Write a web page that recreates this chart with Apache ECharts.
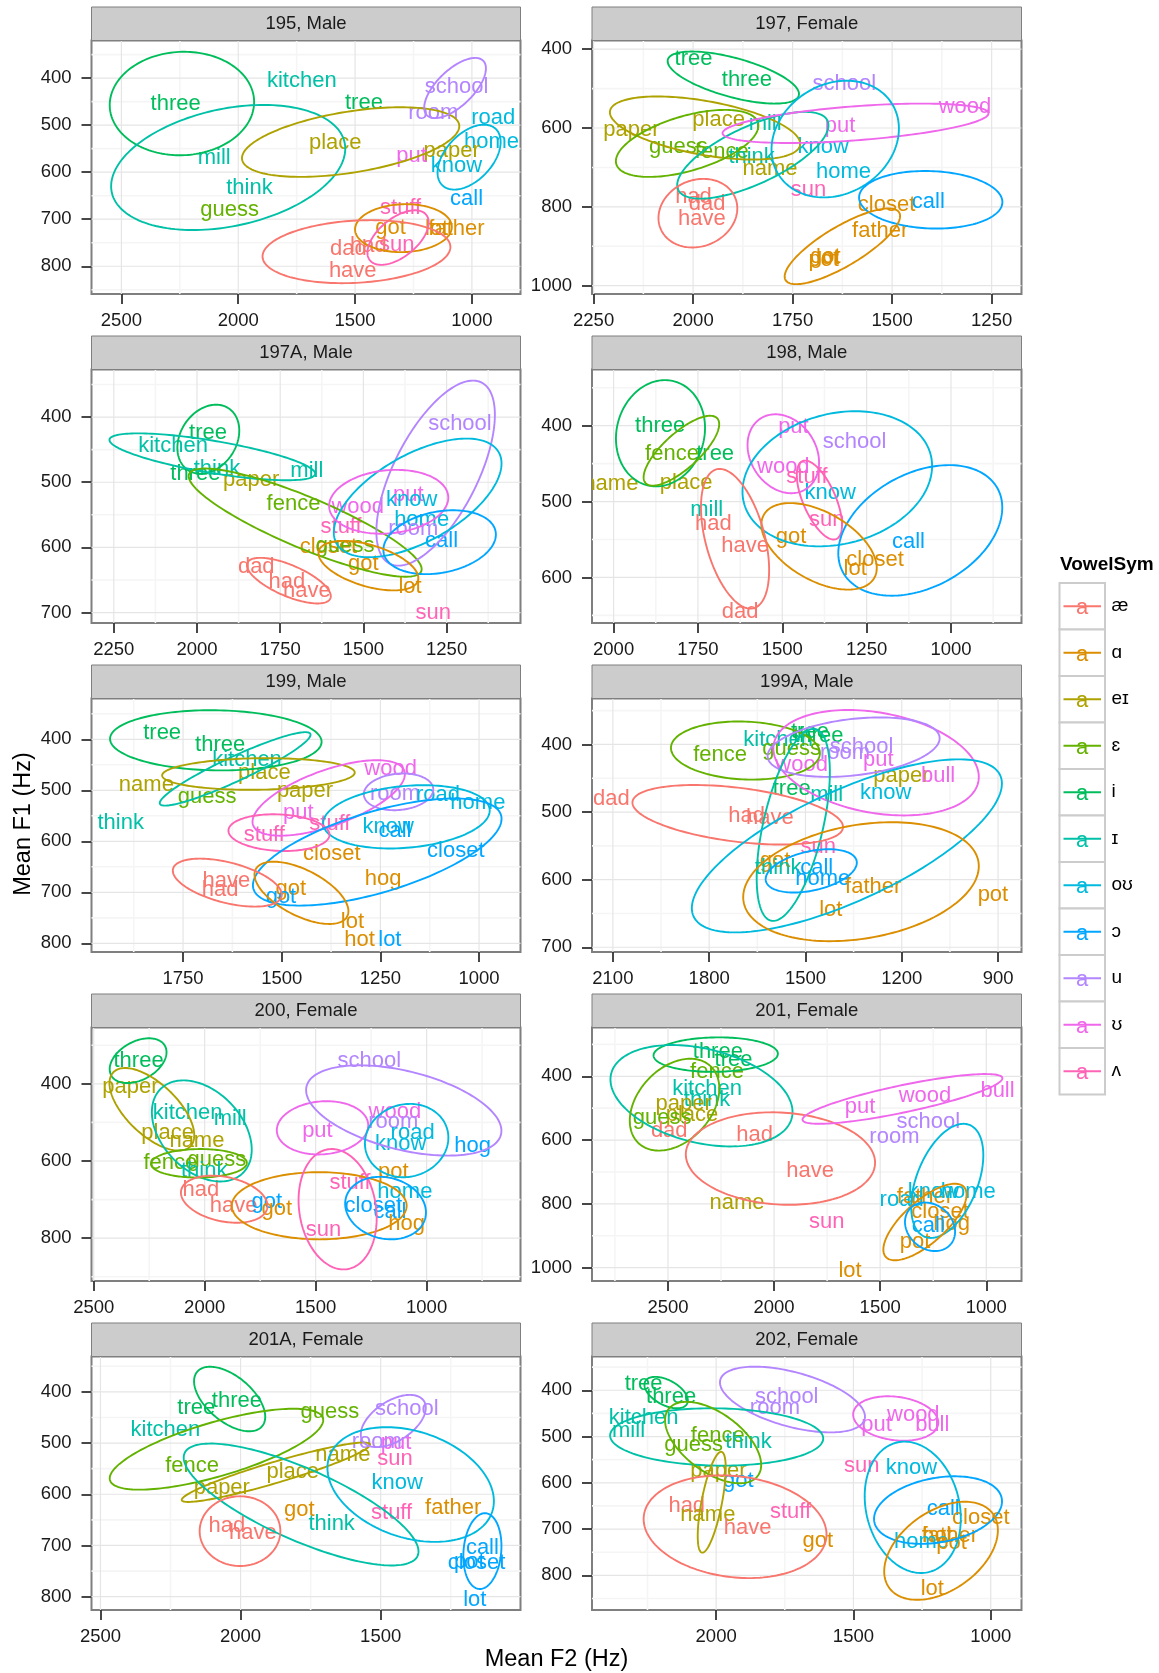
<!DOCTYPE html>
<html><head><meta charset="utf-8">
<script src="https://cdn.jsdelivr.net/npm/echarts@6/dist/echarts.min.js"></script>
<style>html,body{margin:0;padding:0;background:#fff}#c{width:1159px;height:1673px}</style>
</head><body><div id="c"></div>
<script>
// ---------- categories ----------
const VOWELS = ['æ','ɑ','eɪ','ɛ','i','ɪ','oʊ','ɔ','u','ʊ','ʌ'];
const COLORS = ['#F8766D','#DB8E00','#AEA200','#64B200','#00BD5C','#00C1A7','#00BADE','#00A6FF','#B385FF','#EF67EB','#FF63B6'];
const panelTitles = ['195, Male','197, Female','197A, Male','198, Male','199, Male','199A, Male','200, Female','201, Female','201A, Female','202, Female'];

// ---------- axis ranges and tick labels (Hz) ----------
const xLims = [[792,2628],[1175,2254],[1028,2317],[791,2064],[895,1982],[827,2165],[577,2510],[834,2858],[1001,2532],[888,2452]];
const yLims = [[320,859],[378,1021],[327,716],[326,660],[320,817],[332,707],[254,911],[247,1042],[331,826],[327,875]];
const xTicks = [[1000,1500,2000,2500],[1250,1500,1750,2000,2250],[1250,1500,1750,2000,2250],[1000,1250,1500,1750,2000],[1000,1250,1500,1750],[900,1200,1500,1800,2100],[1000,1500,2000,2500],[1000,1500,2000,2500],[1500,2000,2500],[1000,1500,2000]];
const yTicks = [[400,500,600,700,800],[400,600,800,1000],[400,500,600,700],[400,500,600],[400,500,600,700,800],[400,500,600,700],[400,600,800],[400,600,800,1000],[400,500,600,700,800],[400,500,600,700,800]];

// ---------- word means: [word, F2, F1, vowel] ----------
const w195 = [['three',2268,455,'i'],['kitchen',1728,407,'ɪ'],['tree',1462,452,'i'],['school',1066,419,'u'],['room',1165,474,'u'],['road',909,485,'oʊ'],['home',916,535,'oʊ'],['place',1585,538,'eɪ'],['paper',1087,554,'eɪ'],['put',1258,565,'ʊ'],['know',1066,587,'oʊ'],['mill',2103,570,'ɪ'],['think',1952,634,'ɪ'],['guess',2037,680,'ɛ'],['call',1023,657,'ɔ'],['stuff',1305,677,'ʌ'],['got',1348,719,'ɑ'],['lot',1151,721,'ɑ'],['father',1066,721,'ɑ'],['sun',1322,755,'ʌ'],['dad',1529,764,'æ'],['had',1443,757,'æ'],['have',1510,809,'æ']];
const w197 = [['tree',1999,425,'i'],['three',1865,478,'i'],['school',1620,488,'u'],['wood',1317,546,'ʊ'],['paper',2155,605,'eɪ'],['place',1936,580,'eɪ'],['mill',1819,590,'ɪ'],['put',1631,595,'ʊ'],['guess',2037,648,'ɛ'],['fence',1928,661,'ɛ'],['think',1853,673,'ɪ'],['know',1673,648,'oʊ'],['name',1807,705,'eɪ'],['home',1622,711,'oʊ'],['sun',1710,756,'ʌ'],['had',1999,775,'æ'],['dad',1965,792,'æ'],['have',1978,830,'æ'],['closet',1514,794,'ɑ'],['call',1409,788,'ɔ'],['father',1530,860,'ɑ'],['got',1668,926,'ɑ'],['lot',1662,929,'ɑ'],['pot',1672,934,'ɑ']];
const w197A = [['tree',1967,425,'i'],['kitchen',2072,445,'ɪ'],['three',2005,488,'i'],['think',1940,479,'ɪ'],['paper',1837,497,'eɪ'],['mill',1670,482,'ɪ'],['school',1210,410,'u'],['fence',1710,534,'ɛ'],['wood',1517,538,'ʊ'],['put',1365,520,'ʊ'],['know',1355,527,'oʊ'],['stuff',1567,568,'ʌ'],['home',1325,558,'oʊ'],['room',1350,571,'u'],['call',1265,590,'ɔ'],['closet',1605,600,'ɑ'],['guess',1555,598,'ɛ'],['got',1500,625,'ɑ'],['dad',1822,630,'æ'],['had',1730,653,'æ'],['have',1670,667,'æ'],['lot',1360,661,'ɑ'],['sun',1290,700,'ʌ']];
const w198 = [['three',1862,401,'i'],['fence',1827,437,'ɛ'],['tree',1699,437,'i'],['name',2008,477,'eɪ'],['place',1785,475,'eɪ'],['put',1467,402,'ʊ'],['school',1286,422,'u'],['wood',1497,454,'ʊ'],['stuff',1427,467,'ʌ'],['know',1358,489,'oʊ'],['mill',1724,511,'ɪ'],['had',1704,529,'æ'],['sun',1368,524,'ʌ'],['have',1610,559,'æ'],['got',1474,546,'ɑ'],['call',1126,553,'ɔ'],['closet',1225,577,'ɑ'],['lot',1284,589,'ɑ'],['dad',1625,646,'æ']];
const w199 = [['tree',1803,388,'i'],['three',1656,412,'i'],['kitchen',1588,441,'ɪ'],['place',1544,466,'eɪ'],['name',1843,490,'eɪ'],['guess',1689,513,'ɛ'],['wood',1224,459,'ʊ'],['paper',1441,501,'eɪ'],['room',1213,508,'u'],['road',1104,510,'oʊ'],['home',1003,525,'oʊ'],['think',1908,564,'ɪ'],['put',1458,544,'ʊ'],['stuff',1378,565,'ʌ'],['stuff',1544,588,'ʌ'],['know',1230,572,'oʊ'],['call',1213,580,'ɔ'],['closet',1373,624,'ɑ'],['closet',1059,618,'ɔ'],['hog',1243,673,'ɑ'],['have',1640,678,'æ'],['had',1656,695,'æ'],['got',1477,693,'ɑ'],['got',1502,710,'ɔ'],['lot',1321,758,'ɑ'],['hot',1303,794,'ɑ'],['lot',1226,793,'ɔ']];
const w199A = [['kitchen',1585,394,'ɪ'],['three',1460,387,'i'],['tree',1486,382,'i'],['guess',1543,406,'ɛ'],['school',1325,403,'u'],['room',1377,413,'u'],['fence',1766,416,'ɛ'],['wood',1512,430,'ʊ'],['put',1273,423,'ʊ'],['paper',1201,446,'eɪ'],['bull',1087,446,'ʊ'],['tree',1543,466,'i'],['mill',1434,474,'ɪ'],['know',1250,472,'oʊ'],['dad',2105,480,'æ'],['had',1683,505,'æ'],['have',1611,508,'æ'],['sun',1460,552,'ʌ'],['got',1595,572,'ɑ'],['think',1585,583,'ɪ'],['call',1465,583,'ɔ'],['home',1446,599,'ɔ'],['father',1289,611,'ɑ'],['pot',916,622,'ɑ'],['lot',1421,645,'ɑ']];
const w200 = [['three',2298,341,'i'],['paper',2335,409,'eɪ'],['school',1258,341,'u'],['kitchen',2077,476,'ɪ'],['mill',1885,491,'ɪ'],['wood',1143,474,'ʊ'],['room',1150,500,'u'],['place',2167,528,'eɪ'],['name',2035,549,'eɪ'],['put',1492,523,'ʊ'],['road',1063,528,'oʊ'],['know',1117,556,'oʊ'],['hog',793,560,'ɔ'],['fence',2155,606,'ɛ'],['guess',1945,597,'ɛ'],['think',2002,625,'ɪ'],['pot',1150,629,'ɑ'],['stuff',1345,658,'ʌ'],['home',1098,681,'oʊ'],['had',2017,675,'æ'],['have',1870,716,'æ'],['got',1720,705,'ɔ'],['got',1675,725,'ɑ'],['closet',1240,716,'ɔ'],['call',1165,731,'ɔ'],['hog',1090,764,'ɑ'],['sun',1465,779,'ʌ']];
const w201 = [['three',2265,323,'i'],['tree',2191,348,'i'],['fence',2269,386,'ɛ'],['kitchen',2316,439,'ɪ'],['think',2316,473,'ɪ'],['paper',2426,486,'eɪ'],['place',2387,520,'eɪ'],['guess',2528,530,'ɛ'],['dad',2494,572,'æ'],['had',2092,583,'æ'],['have',1830,696,'æ'],['name',2175,796,'eɪ'],['sun',1752,858,'ʌ'],['lot',1642,1011,'ɑ'],['put',1595,497,'ʊ'],['wood',1289,463,'ʊ'],['bull',947,446,'ʊ'],['school',1273,544,'u'],['room',1433,589,'u'],['road',1399,788,'oʊ'],['father',1289,778,'ɑ'],['know',1249,764,'oʊ'],['home',1085,764,'oʊ'],['closet',1218,824,'ɑ'],['hog',1163,864,'ɑ'],['call',1273,869,'ɔ'],['pot',1336,918,'ɑ']];
const w201A = [['three',2013,418,'i'],['tree',2158,431,'i'],['guess',1681,439,'ɛ'],['school',1407,434,'u'],['kitchen',2268,475,'ɪ'],['room',1514,498,'u'],['put',1445,500,'ʊ'],['name',1635,524,'eɪ'],['sun',1449,531,'ʌ'],['fence',2173,544,'ɛ'],['place',1814,556,'eɪ'],['know',1441,578,'oʊ'],['paper',2067,587,'eɪ'],['got',1790,630,'ɑ'],['think',1675,657,'ɪ'],['stuff',1461,637,'ʌ'],['father',1241,626,'ɑ'],['had',2049,662,'æ'],['have',1956,675,'æ'],['call',1137,704,'ɔ'],['pot',1184,733,'ɔ'],['closet',1158,735,'ɔ'],['lot',1164,806,'ɔ']];
const w202 = [['tree',2264,386,'i'],['three',2164,415,'i'],['school',1743,415,'u'],['room',1786,438,'u'],['kitchen',2264,460,'ɪ'],['mill',2319,487,'ɪ'],['wood',1282,454,'ʊ'],['put',1416,476,'ʊ'],['bull',1213,475,'ʊ'],['fence',1994,499,'ɛ'],['think',1882,511,'ɪ'],['guess',2082,518,'ɛ'],['sun',1470,563,'ʌ'],['know',1289,567,'oʊ'],['paper',1992,574,'eɪ'],['got',1919,596,'ɔ'],['had',2107,651,'æ'],['name',2030,670,'eɪ'],['have',1885,697,'æ'],['stuff',1729,663,'ʌ'],['got',1630,726,'ɑ'],['call',1173,657,'ɔ'],['closet',1036,675,'ɑ'],['father',1149,715,'ɑ'],['hot',1194,715,'ɑ'],['home',1252,728,'oʊ'],['pot',1143,731,'ɑ'],['lot',1213,830,'ɑ']];

// ---------- vowel ellipses: [vowel, centre F2, centre F1, half-width F2, half-height F1, correlation] ----------
const e195 = [['i',2241,454,309,110,0.03],['ɪ',2043,590,501,133,0.3],['eɪ',1519,536,465,74,0.46],['u',1072,421,132,64,0.65],['oʊ',1012,568,135,69,0.47],['ɑ',1293,719,207,51,0.05],['ʌ',1316,739,131,58,0.55],['æ',1494,769,402,67,0.15]];
const e197 = [['i',1899,472,165,66,-0.63],['eɪ',1970,600,239,80,-0.5],['ɛ',2015,639,179,85,0.53],['ɪ',1850,669,190,110,0.69],['ʊ',1592,588,334,50,0.5],['oʊ',1643,628,160,148,0.18],['æ',1988,816,99,87,0.14],['ɔ',1403,782,180,73,-0.08],['ɑ',1625,900,145,96,0.8]];
const e197A = [['i',1966,434,93,53,0.25],['ɪ',1954,461,309,36,-0.72],['ɛ',1675,562,350,83,-0.86],['u',1283,486,178,142,0.63],['oʊ',1337,524,252,91,0.58],['ʊ',1424,530,179,49,0.13],['ɔ',1271,592,169,49,0.24],['ɑ',1485,628,150,38,-0.5],['æ',1724,651,126,35,-0.68]];
const e198 = [['i',1861,410,132,70,0.1],['ɛ',1799,433,112,46,0.76],['ʊ',1497,437,106,52,-0.22],['ʌ',1390,498,67,52,-0.63],['oʊ',1337,470,281,89,0.19],['ɔ',1091,538,243,86,0.35],['ɑ',1391,559,171,57,-0.5],['æ',1640,549,101,92,-0.45]];
const e199 = [['i',1667,402,268,59,-0.05],['ɪ',1618,458,191,72,0.93],['eɪ',1559,468,244,31,0.09],['ʊ',1381,515,193,74,0.63],['u',1204,503,88,36,0.13],['oʊ',1184,552,211,62,0.2],['ʌ',1507,583,128,36,-0.11],['ɔ',1258,621,315,105,0.62],['ɑ',1450,701,119,61,-0.59],['æ',1638,681,138,47,-0.5]];
const e199A = [['ɛ',1687,409,232,43,-0.09],['ʊ',1280,427,320,78,-0.27],['u',1350,404,268,44,0.3],['ɪ',1538,519,114,142,0.55],['æ',1711,504,328,44,-0.41],['oʊ',1371,550,483,128,0.72],['ɑ',1327,603,367,88,0.26],['ɔ',1482,587,142,32,0.38]];
const e200 = [['i',2300,340,128,58,0.38],['eɪ',2238,466,191,107,-0.63],['ɪ',2013,522,225,131,-0.37],['ɛ',2026,606,216,37,0.03],['æ',1912,699,195,61,-0.28],['ɑ',1484,716,394,87,0.0],['ʌ',1401,725,176,156,-0.15],['ʊ',1469,514,206,69,0.09],['u',1103,469,440,117,-0.45],['oʊ',1090,547,188,95,0.08],['ɔ',1185,722,182,81,-0.14]];
const e201 = [['i',2275,332,293,54,0.05],['ɪ',2342,461,429,159,-0.32],['ɛ',2469,489,211,144,0.35],['æ',1970,658,446,145,-0.09],['ʊ',1395,471,471,78,0.83],['oʊ',1184,728,170,179,0.45],['ɑ',1289,857,196,120,0.72],['ɔ',1265,872,118,76,-0.2]];
const e201A = [['i',2039,414,127,63,-0.55],['ɛ',2086,512,381,79,0.72],['eɪ',1874,557,336,58,0.93],['ɪ',1784,620,419,119,-0.77],['u',1455,457,116,51,0.51],['oʊ',1393,581,297,112,-0.29],['æ',2002,672,144,68,0],['ɔ',1137,711,68,74,0.13]];
const e202 = [['i',2182,405,79,34,-0.5],['u',1722,420,264,71,-0.52],['ʊ',1346,461,155,48,-0.18],['ɪ',1998,501,388,62,-0.05],['ɛ',2011,513,175,88,-0.55],['eɪ',2016,642,51,109,0.67],['æ',1931,695,333,111,-0.15],['oʊ',1284,653,175,142,-0.17],['ɔ',1192,659,233,73,0.26],['ɑ',1181,747,207,106,0.42]];

const panelWords = [w195,w197,w197A,w198,w199,w199A,w200,w201,w201A,w202];
const panelEllipses = [e195,e197,e197A,e198,e199,e199A,e200,e201,e201A,e202];

// ---------- layout ----------
const FONT = '"Liberation Sans", Arial, Helvetica, sans-serif';
const COL_LEFT = [91.5, 592];
const COL_W = [429, 429.5];
const ROW_TOP = [40.5, 369.5, 698.5, 1027.5, 1356.5];
const PLOT_H = 253.5;
const STRIP_H = 33.5;

const chart = echarts.init(document.getElementById('c'), null, {renderer: 'canvas', width: 1159, height: 1673});

const grids = [], xAxes = [], yAxes = [], series = [], graphics = [];

function minorOf(ticks, lim) {
  const t = ticks.slice().sort((a, b) => a - b);
  const step = t[1] - t[0];
  const out = [];
  for (let v = t[0] - step / 2; v <= t[t.length - 1] + step / 2 + 1e-9; v += step) {
    if (v > lim[0] && v < lim[1]) out.push(v);
  }
  return out;
}
const plain = v => String(Math.round(v));

panelTitles.forEach((title, i) => {
  const col = i % 2, row = Math.floor(i / 2);
  const left = COL_LEFT[col], width = COL_W[col], top = ROW_TOP[row];
  const xl = xLims[i], yl = yLims[i];
  grids.push({left: left, top: top, width: width, height: PLOT_H, show: true,
    backgroundColor: '#ffffff', borderColor: '#7F7F7F', borderWidth: 2,
    containLabel: false, outerBoundsMode: 'none'});
  xAxes.push({gridIndex: i, type: 'value', inverse: true, min: xl[0], max: xl[1],
    axisLine: {show: false}, splitLine: {show: false},
    axisTick: {show: true, inside: false, length: 10, customValues: xTicks[i], lineStyle: {color: '#333333', width: 1.8}},
    axisLabel: {show: true, customValues: xTicks[i], formatter: plain, margin: 17, color: '#1a1a1a', fontSize: 18.5, fontFamily: FONT, hideOverlap: false}});
  yAxes.push({gridIndex: i, type: 'value', inverse: true, min: yl[0], max: yl[1],
    axisLine: {show: false}, splitLine: {show: false},
    axisTick: {show: true, inside: false, length: 10, customValues: yTicks[i], lineStyle: {color: '#333333', width: 1.8}},
    axisLabel: {show: true, customValues: yTicks[i], formatter: plain, margin: 20, color: '#1a1a1a', fontSize: 18.5, fontFamily: FONT, hideOverlap: false}});

  // grid lines (major + minor) drawn through the axes' scales
  const gl = [];
  minorOf(xTicks[i], xl).forEach(v => gl.push([1, v, 0]));
  minorOf(yTicks[i], yl).forEach(v => gl.push([0, v, 0]));
  xTicks[i].forEach(v => gl.push([1, v, 1]));
  yTicks[i].forEach(v => gl.push([0, v, 1]));
  const xm = (xl[0] + xl[1]) / 2, ym = (yl[0] + yl[1]) / 2;
  series.push({
    type: 'custom', coordinateSystem: 'cartesian2d', xAxisIndex: i, yAxisIndex: i, silent: true, z: 1,
    data: gl.map(g => [g[0] ? g[1] : xm, g[0] ? ym : g[1]]),
    renderItem: (params, api) => {
      const g = gl[params.dataIndex];
      let p1, p2;
      if (g[0]) { p1 = api.coord([g[1], yl[0]]); p2 = api.coord([g[1], yl[1]]); }
      else { p1 = api.coord([xl[0], g[1]]); p2 = api.coord([xl[1], g[1]]); }
      return {type: 'line', shape: {x1: p1[0], y1: p1[1], x2: p2[0], y2: p2[1]},
        style: {stroke: g[2] ? '#E5E5E5' : '#F5F5F5', lineWidth: g[2] ? 1.2 : 1.6}, silent: true};
    }
  });

  // word labels
  const words = panelWords[i];
  series.push({
    type: 'custom', coordinateSystem: 'cartesian2d', xAxisIndex: i, yAxisIndex: i, silent: true, clip: true, z: 3,
    data: words.map(w => [w[1], w[2]]),
    renderItem: (params, api) => {
      const w = words[params.dataIndex];
      const p = api.coord([api.value(0), api.value(1)]);
      return {type: 'text', x: p[0], y: p[1], silent: true,
        style: {text: w[0], fill: COLORS[VOWELS.indexOf(w[3])], font: '22px ' + FONT,
          align: 'center', verticalAlign: 'middle', textAlign: 'center', textVerticalAlign: 'middle'}};
    }
  });

  // ellipses
  const ells = panelEllipses[i];
  series.push({
    type: 'custom', coordinateSystem: 'cartesian2d', xAxisIndex: i, yAxisIndex: i, silent: true, clip: true, z: 4,
    data: ells.map(e => [e[1], e[2], e[3], e[4], e[5]]),
    renderItem: (params, api) => {
      const e = ells[params.dataIndex];
      const cx = e[1], cy = e[2], hx = e[3], hy = e[4], r = e[5];
      const s = Math.sqrt(Math.max(0, 1 - r * r));
      const pts = [];
      for (let k = 0; k < 160; k++) {
        const t = k / 160 * Math.PI * 2;
        pts.push(api.coord([cx + hx * Math.cos(t), cy + hy * (r * Math.cos(t) + s * Math.sin(t))]));
      }
      return {type: 'polygon', shape: {points: pts}, silent: true,
        style: {fill: 'none', stroke: COLORS[VOWELS.indexOf(e[0])], lineWidth: 1.9}};
    }
  });

  // strip
  graphics.push({type: 'rect', shape: {x: left, y: top - STRIP_H, width: width, height: STRIP_H},
    style: {fill: '#CCCCCC', stroke: '#7F7F7F', lineWidth: 1}, silent: true, z: 10});
  graphics.push({type: 'text', x: left + width / 2, y: top - STRIP_H / 2 + 0.5, silent: true, z: 11,
    style: {text: title, fill: '#1a1a1a', font: '18.5px ' + FONT, align: 'center', verticalAlign: 'middle', textAlign: 'center', textVerticalAlign: 'middle'}});
});

// axis titles
graphics.push({type: 'text', x: 556.5, y: 1660, silent: true, z: 11,
  style: {text: 'Mean F2 (Hz)', fill: '#000', font: '23.5px ' + FONT, align: 'center', verticalAlign: 'middle', textAlign: 'center', textVerticalAlign: 'middle'}});
graphics.push({type: 'text', x: 23.5, y: 824, rotation: Math.PI / 2, silent: true, z: 11,
  style: {text: 'Mean F1 (Hz)', fill: '#000', font: '23.5px ' + FONT, align: 'center', verticalAlign: 'middle', textAlign: 'center', textVerticalAlign: 'middle'}});

// legend
graphics.push({type: 'text', x: 1060, y: 565, silent: true, z: 11,
  style: {text: 'VowelSym', fill: '#000', font: 'bold 19px ' + FONT, align: 'left', verticalAlign: 'middle', textAlign: 'left', textVerticalAlign: 'middle'}});
const KEY_TOP = 583, KEY_H = 46.5;
VOWELS.forEach((v, k) => {
  const y0 = KEY_TOP + k * KEY_H, yc = y0 + KEY_H / 2;
  graphics.push({type: 'rect', shape: {x: 1059.5, y: y0, width: 45.5, height: KEY_H}, silent: true, z: 10,
    style: {fill: '#fff', stroke: '#CCCCCC', lineWidth: 2}});
  graphics.push({type: 'text', x: 1082, y: yc + 2, silent: true, z: 11,
    style: {text: 'a', fill: COLORS[k], font: '22px ' + FONT, align: 'center', verticalAlign: 'middle', textAlign: 'center', textVerticalAlign: 'middle'}});
  graphics.push({type: 'line', shape: {x1: 1063.5, y1: yc, x2: 1101, y2: yc}, silent: true, z: 12,
    style: {stroke: COLORS[k], lineWidth: 2}});
  graphics.push({type: 'text', x: 1111.5, y: yc, silent: true, z: 11,
    style: {text: v, fill: '#000', font: '19px ' + FONT, align: 'left', verticalAlign: 'middle', textAlign: 'left', textVerticalAlign: 'middle'}});
});

chart.setOption({
  animation: false,
  backgroundColor: '#ffffff',
  grid: grids,
  xAxis: xAxes,
  yAxis: yAxes,
  series: series,
  graphic: {elements: graphics}
});
</script>
</body></html>
